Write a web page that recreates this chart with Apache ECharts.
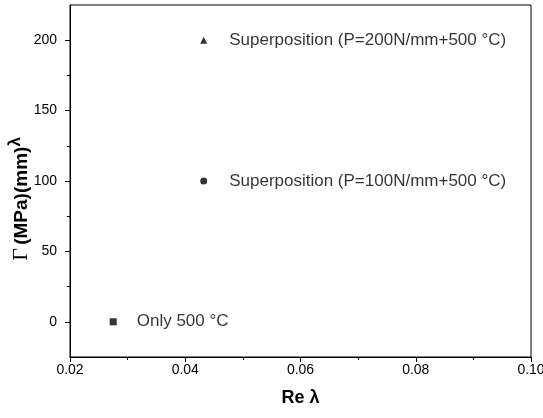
<!DOCTYPE html>
<html>
<head>
<meta charset="utf-8">
<script src="https://cdn.jsdelivr.net/npm/echarts@6/dist/echarts.min.js"></script>
<style>
html,body{margin:0;padding:0;background:#fff;}
#chart{width:543px;height:418px;}
</style>
</head>
<body>
<div id="chart"></div>
<script>
// Data
const seriesNames = ['Only 500 °C', 'Superposition (P=100N/mm+500 °C)', 'Superposition (P=200N/mm+500 °C)'];
const reValues = [0.0275, 0.0432, 0.0432];
const gammaValues = [0, 100, 200];
const symbols = ['rect', 'circle', 'triangle'];
const yMajorTicks = [0, 50, 100, 150, 200];
const yMinorTicks = [25, 75, 125, 175];

const FONT = 'Liberation Sans, Arial, sans-serif';
const chart = echarts.init(document.getElementById('chart'));

const series = seriesNames.map((name, i) => ({
  name: name,
  type: 'scatter',
  symbol: symbols[i],
  symbolSize: 7,
  itemStyle: { color: '#000' },
  data: [[reValues[i], gammaValues[i]]],
  label: {
    show: true,
    position: 'right',
    distance: i === 0 ? 20 : 22,
    formatter: name,
    color: '#000',
    fontFamily: FONT,
    fontSize: 17
  },
  emphasis: { disabled: true }
}));

const yBase = {
  type: 'value',
  min: -25,
  max: 225,
  interval: 25,
  splitLine: { show: false },
  axisLine: { show: true, onZero: false, lineStyle: { color: '#000', width: 1 } }
};

chart.setOption({
  animation: false,
  backgroundColor: '#fff',
  grid: { left: 70, right: 12, top: 5, bottom: 61, show: true, borderColor: '#000', borderWidth: 1, outerBoundsMode: 'none', containLabel: false },
  xAxis: {
    type: 'value',
    min: 0.02,
    max: 0.10,
    interval: 0.02,
    name: 'Re λ',
    nameLocation: 'middle',
    nameGap: 32,
    nameMoveOverlap: false,
    nameTextStyle: { fontFamily: FONT, fontWeight: 'bold', fontSize: 18, color: '#000' },
    axisLine: { show: true, onZero: false, lineStyle: { color: '#000', width: 1 } },
    axisTick: { show: true, inside: false, length: 5, lineStyle: { color: '#000' } },
    minorTick: { show: true, splitNumber: 2, length: 3, lineStyle: { color: '#000' } },
    splitLine: { show: false },
    axisLabel: { color: '#000', fontFamily: FONT, fontSize: 14, margin: 6, formatter: v => v.toFixed(2) }
  },
  yAxis: [
    Object.assign({}, yBase, {
      name: '{g|Γ} {t|(MPa)(mm)}{s|λ}',
      nameLocation: 'middle',
      nameGap: 34,
      nameMoveOverlap: false,
      nameTextStyle: {
        padding: [0, 36, 0, 0],
        rich: {
          g: { fontFamily: 'Liberation Serif, serif', fontSize: 22, color: '#000' },
          t: { fontFamily: FONT, fontWeight: 'bold', fontSize: 19, color: '#000' },
          s: { fontFamily: FONT, fontWeight: 'bold', fontSize: 17, color: '#000', padding: [0, 0, 12, 0] }
        }
      },
      axisTick: { show: true, inside: false, length: 5, customValues: yMajorTicks, lineStyle: { color: '#000' } },
      axisLabel: { color: '#000', fontFamily: FONT, fontSize: 14, margin: 13, customValues: yMajorTicks }
    }),
    Object.assign({}, yBase, {
      position: 'left',
      axisTick: { show: true, inside: false, length: 3, customValues: yMinorTicks, lineStyle: { color: '#000' } },
      axisLabel: { show: false }
    })
  ],
  series: series
});
</script>
</body>
</html>
